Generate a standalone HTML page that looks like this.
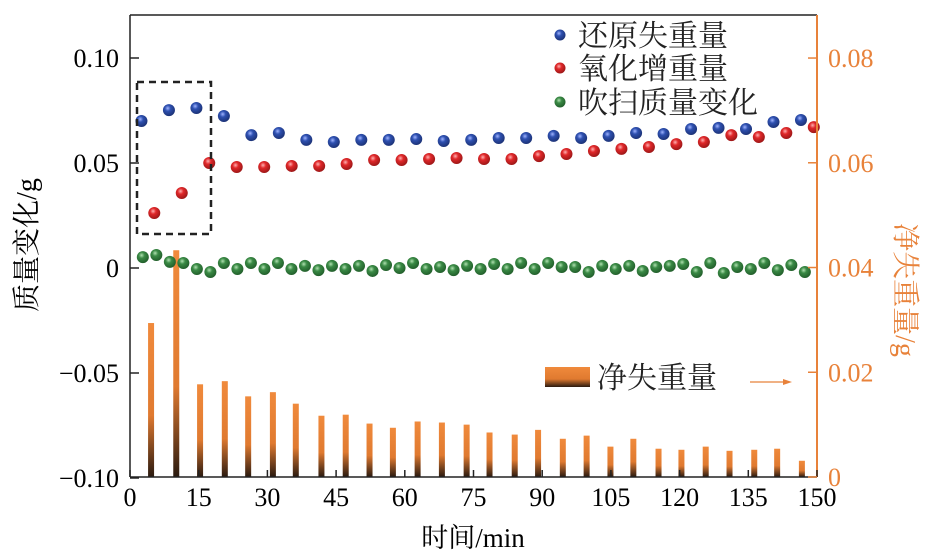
<!DOCTYPE html>
<html><head><meta charset="utf-8"><style>
body{margin:0;background:#fff;}
svg{display:block;font-family:"Liberation Serif","Noto Serif CJK SC",serif;}
</style></head><body>
<svg width="927" height="555" viewBox="0 0 927 555" id="chart">
<defs>
<linearGradient id="barg" x1="0" y1="0" x2="0" y2="1"><stop offset="0" stop-color="#f08a3c"/><stop offset="0.6" stop-color="#e07a30"/><stop offset="1" stop-color="#2a1a10"/></linearGradient>
<radialGradient id="gb" cx="0.4" cy="0.35" r="0.7"><stop offset="0" stop-color="#9fb3ff"/><stop offset="0.35" stop-color="#2e50b0"/><stop offset="1" stop-color="#1a2f70"/></radialGradient>
<radialGradient id="gr" cx="0.4" cy="0.35" r="0.7"><stop offset="0" stop-color="#ffb0b0"/><stop offset="0.35" stop-color="#e0282a"/><stop offset="1" stop-color="#951515"/></radialGradient>
<radialGradient id="gg" cx="0.4" cy="0.35" r="0.7"><stop offset="0" stop-color="#b0e0b0"/><stop offset="0.35" stop-color="#3a8a45"/><stop offset="1" stop-color="#1f5a28"/></radialGradient>
</defs>
<g id="marks"></g>
<rect x="137" y="82" width="74" height="152" fill="none" stroke="#222" stroke-width="2.5" stroke-dasharray="7,5"/>
<line x1="130" y1="15" x2="130" y2="477" stroke="#222" stroke-width="1.5"/>
<line x1="130" y1="15" x2="817" y2="15" stroke="#222" stroke-width="1.5"/>
<line x1="130" y1="477" x2="817" y2="477" stroke="#222" stroke-width="1.5"/>
<line x1="817" y1="15" x2="817" y2="477" stroke="#e8823a" stroke-width="2"/>
<g id="axes"></g>
<g font-size="30" fill="#222">
<circle cx="560" cy="35" r="5.5" fill="url(#gb)"/>
<text x="578" y="46">还原失重量</text>
<circle cx="560" cy="68" r="5.5" fill="url(#gr)"/>
<text x="578" y="79">氧化增重量</text>
<circle cx="560" cy="102" r="5.5" fill="url(#gg)"/>
<text x="578" y="113">吹扫质量变化</text>
<rect x="545" y="367" width="45" height="20" fill="url(#barg)"/>
<text x="597" y="388">净失重量</text>
<line x1="750" y1="382" x2="786" y2="382" stroke="#e8823a" stroke-width="1.2"/>
<polygon points="792,382 783,379 783,385" fill="#e8823a"/>
</g>
<text x="473" y="547" font-size="27" text-anchor="middle">时间/min</text>
<text transform="translate(36,245) rotate(-90)" font-size="28" text-anchor="middle">质量变化/g</text>
<text transform="translate(896,290) rotate(90)" font-size="28" text-anchor="middle" fill="#e8823a">净失重量/g</text>
</svg>
<script>
const xTicks=[0,15,30,45,60,75,90,105,120,135,150];
const yLeftTicks=[0.10,0.05,0,-0.05,-0.10];
const yLeftLabels=["0.10","0.05","0","\u22120.05","\u22120.10"];
const yRightTicks=[0,0.02,0.04,0.06,0.08];
const yRightLabels=["0","0.02","0.04","0.06","0.08"];
const blueT=[2.5,8.5,14.5,20.5,26.5,32.5,38.5,44.5,50.5,56.5,62.5,68.5,74.5,80.5,86.5,92.5,98.5,104.5,110.5,116.5,122.5,128.5,134.5,140.5,146.5];
const blueV=[0.070,0.0752,0.0762,0.0724,0.0633,0.0643,0.061,0.060,0.061,0.061,0.0614,0.0605,0.061,0.0619,0.0619,0.0629,0.0619,0.0629,0.0643,0.0638,0.0662,0.0667,0.0662,0.0695,0.0705];
const redT=[5.3,11.3,17.3,23.3,29.3,35.3,41.3,47.3,53.3,59.3,65.3,71.3,77.3,83.3,89.3,95.3,101.3,107.3,113.3,119.3,125.3,131.3,137.3,143.3,149.3];
const redV=[0.0262,0.0357,0.050,0.0481,0.0481,0.0486,0.0486,0.0495,0.0514,0.0514,0.0519,0.0524,0.0519,0.0519,0.0533,0.0543,0.0557,0.0567,0.0576,0.059,0.060,0.0633,0.0624,0.0643,0.0671];
const greenV=[0.0052,0.0062,0.0029,0.0024,-0.0005,-0.0019,0.0024,-0.0005,0.0024,-0.0005,0.0024,-0.0005,0.001,-0.001,0.001,-0.0005,0.001,-0.0014,0.0014,0,0.0024,-0.0005,0.0005,-0.001,0.001,-0.0005,0.0019,-0.0005,0.0024,-0.0005,0.0024,0.0005,0.0005,-0.0019,0.001,-0.0005,0.001,-0.0014,0.0005,0.001,0.0019,-0.0019,0.0024,-0.0024,0.0005,-0.0005,0.0024,-0.001,0.0014,-0.0019];
const greenT=greenV.map((v,i)=>2.8+2.95*i);
const netT=[4.6,10.1,15.3,20.7,25.8,31.2,36.2,41.8,47.1,52.3,57.4,62.8,68.1,73.5,78.5,84.0,89.1,94.5,99.7,104.9,109.9,115.4,120.4,125.7,130.9,136.3,141.3,146.7];
const netV=[0.0294,0.0433,0.0177,0.0183,0.0154,0.0162,0.0140,0.0117,0.0119,0.0102,0.0094,0.0106,0.0104,0.0100,0.0085,0.0081,0.0090,0.0073,0.0079,0.0058,0.0073,0.0054,0.0052,0.0058,0.0050,0.0052,0.0054,0.0031];
const NS="http://www.w3.org/2000/svg";
const X=t=>130+(t/150)*687;
const YL=v=>268-v*2100;
const YR=v=>477-v*5237;
const marks=document.getElementById('marks');
const axes=document.getElementById('axes');
function mk(tag,attrs,parent){const e=document.createElementNS(NS,tag);for(const k in attrs)e.setAttribute(k,attrs[k]);parent.appendChild(e);return e;}
netT.forEach((t,i)=>{const y=YR(netV[i]);const r=mk('rect',{x:X(t)-3,y:y,width:6,height:477-y,fill:'url(#barg)'},marks);

});
greenT.forEach((t,i)=>{const c=mk('circle',{cx:X(t),cy:YL(greenV[i]),r:6,fill:'url(#gg)'},marks);

});
blueT.forEach((t,i)=>{const c=mk('circle',{cx:X(t),cy:YL(blueV[i]),r:6,fill:'url(#gb)'},marks);

});
redT.forEach((t,i)=>{const c=mk('circle',{cx:X(t),cy:YL(redV[i]),r:6,fill:'url(#gr)'},marks);

});
xTicks.forEach(t=>{const x=X(t);mk('line',{x1:x,y1:477,x2:x,y2:470,stroke:'#222','stroke-width':1.5},axes);
const tx=mk('text',{x:x,y:506,'font-size':26,'text-anchor':'middle'},axes);tx.textContent=t;

});
yLeftTicks.forEach((v,i)=>{const y=YL(v);mk('line',{x1:130,y1:y,x2:139,y2:y,stroke:'#222','stroke-width':1.5},axes);
const tx=mk('text',{x:119,y:y+9,'font-size':26,'text-anchor':'end'},axes);tx.textContent=yLeftLabels[i];

});
yRightTicks.forEach((v,i)=>{const y=YR(v);mk('line',{x1:808,y1:y,x2:817,y2:y,stroke:'#e8823a','stroke-width':1.5},axes);
const tx=mk('text',{x:828,y:y+9,'font-size':26,fill:'#e8823a'},axes);tx.textContent=yRightLabels[i];

});
</script>
</body></html>
